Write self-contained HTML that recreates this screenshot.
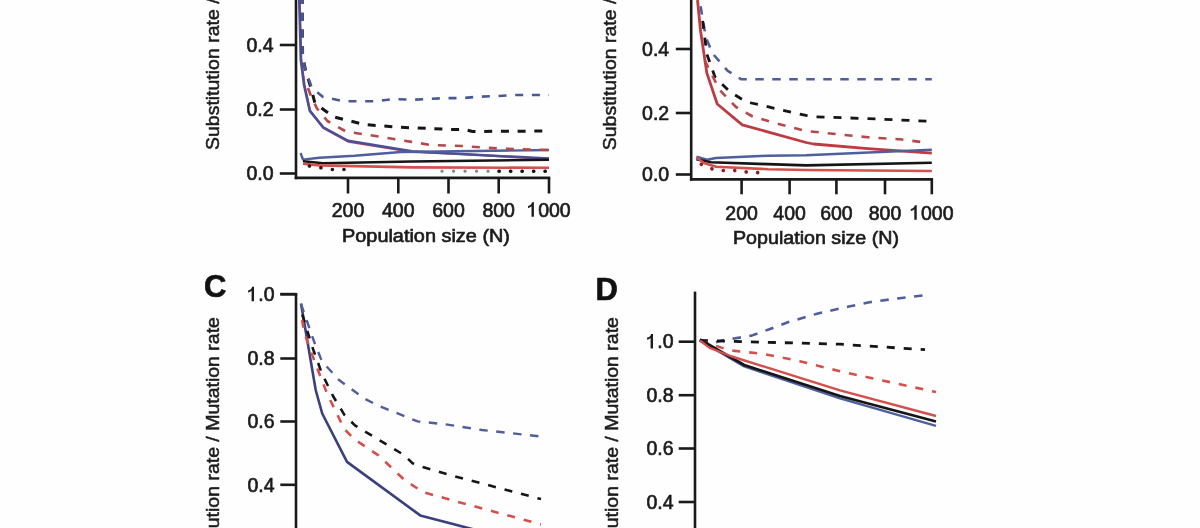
<!DOCTYPE html>
<html><head><meta charset="utf-8"><style>
html,body{margin:0;padding:0;background:#fefefe;}
body{width:1200px;height:528px;overflow:hidden;}
svg{display:block;font-family:"Liberation Sans",sans-serif;filter:blur(0.45px);}
</style></head><body>
<svg width="1200" height="528" viewBox="0 0 1200 528">
<rect width="1200" height="528" fill="#fefefe"/>
<line x1="296" y1="-2" x2="296" y2="179.20000000000002" stroke="#1a1a1a" stroke-width="2.6"/>
<line x1="294.7" y1="177.9" x2="550.3" y2="177.9" stroke="#1a1a1a" stroke-width="2.6"/>
<line x1="279.8" y1="45" x2="296" y2="45" stroke="#1a1a1a" stroke-width="2.6"/>
<line x1="279.8" y1="109.5" x2="296" y2="109.5" stroke="#1a1a1a" stroke-width="2.6"/>
<line x1="279.8" y1="173.5" x2="296" y2="173.5" stroke="#1a1a1a" stroke-width="2.6"/>
<line x1="348" y1="177.9" x2="348" y2="193.5" stroke="#1a1a1a" stroke-width="2.6"/>
<text x="348" y="216.5" font-size="19.5" text-anchor="middle" font-weight="normal" fill="#1c1c1c" stroke="#1c1c1c" stroke-width="0.65">200</text>
<line x1="398.3" y1="177.9" x2="398.3" y2="193.5" stroke="#1a1a1a" stroke-width="2.6"/>
<text x="398.3" y="216.5" font-size="19.5" text-anchor="middle" font-weight="normal" fill="#1c1c1c" stroke="#1c1c1c" stroke-width="0.65">400</text>
<line x1="448.5" y1="177.9" x2="448.5" y2="193.5" stroke="#1a1a1a" stroke-width="2.6"/>
<text x="448.5" y="216.5" font-size="19.5" text-anchor="middle" font-weight="normal" fill="#1c1c1c" stroke="#1c1c1c" stroke-width="0.65">600</text>
<line x1="498.7" y1="177.9" x2="498.7" y2="193.5" stroke="#1a1a1a" stroke-width="2.6"/>
<text x="498.7" y="216.5" font-size="19.5" text-anchor="middle" font-weight="normal" fill="#1c1c1c" stroke="#1c1c1c" stroke-width="0.65">800</text>
<line x1="549" y1="177.9" x2="549" y2="193.5" stroke="#1a1a1a" stroke-width="2.6"/>
<path d="M531.52,216.70 L533.92,216.70 L533.92,202.20 L532.02,202.20 C531.52,204.30 530.22,205.50 528.02,205.90 L528.02,208.00 C529.52,207.80 530.82,207.20 531.52,206.30 Z" fill="#1c1c1c"/>
<text x="538.158" y="216.5" font-size="19.5" text-anchor="start" font-weight="normal" fill="#1c1c1c" stroke="#1c1c1c" stroke-width="0.65">000</text>
<text x="273.6" y="51.5" font-size="19.5" text-anchor="end" font-weight="normal" fill="#1c1c1c" stroke="#1c1c1c" stroke-width="0.65">0.4</text>
<text x="273.6" y="116.0" font-size="19.5" text-anchor="end" font-weight="normal" fill="#1c1c1c" stroke="#1c1c1c" stroke-width="0.65">0.2</text>
<text x="273.6" y="180.0" font-size="19.5" text-anchor="end" font-weight="normal" fill="#1c1c1c" stroke="#1c1c1c" stroke-width="0.65">0.0</text>
<text x="219.2" y="150" font-size="18.5" text-anchor="start" font-weight="normal" fill="#1c1c1c" stroke="#1c1c1c" stroke-width="0.5" transform="rotate(-90 219.2 150)" textLength="270.7" lengthAdjust="spacingAndGlyphs">Substitution rate / Mutation rate</text>
<text x="342" y="242.2" font-size="18" text-anchor="start" font-weight="normal" fill="#1c1c1c" stroke="#1c1c1c" stroke-width="0.65" textLength="168" lengthAdjust="spacingAndGlyphs">Population size (N)</text>
<polyline points="299.7,0 301.3,60 304.5,85 310.2,111.2 323.5,128 348.2,141.6 411.8,152 470,154.5 549,159" fill="none" stroke="#c04848" stroke-width="2.2" stroke-linejoin="round" stroke-linecap="butt"/>
<polyline points="299.2,0 300.8,60 304,85 309.7,110.6 323.2,127.3 348.2,140.8 411.8,151.25 470,154.5 549,158.6" fill="none" stroke="#4a4f98" stroke-width="2.5" stroke-linejoin="round" stroke-linecap="butt"/>
<polyline points="300.6,153 303,159.6 319.3,157.8 354.5,155.8 401,152 549,150" fill="none" stroke="#4f5f9e" stroke-width="2.4" stroke-linejoin="round" stroke-linecap="butt"/>
<polyline points="308,88 311,96 317,108.5 327.4,121 346,131.5 379.5,136.7 411.8,141.9 430.8,145 462,146 498,148.5 549,150" fill="none" stroke="#b54848" stroke-width="2.6" stroke-linejoin="round" stroke-linecap="butt" stroke-dasharray="8 9"/>
<polyline points="302.2,-4 302.6,56 305.5,70 310.8,87.5 315,103.3 333.7,116.9 365,124.6 400,127.3 451.7,129.4 464,129.4 472.5,131.5 549,131" fill="none" stroke="#151515" stroke-width="3" stroke-linejoin="round" stroke-linecap="butt" stroke-dasharray="8 8.7"/>
<polyline points="302.2,-4 302.6,56 305,68.75 311.8,87.7 323,97 344,101.25 375,101.25 394,99 412,99.8 445,98.1 462,98.1 478.75,96.7 497.5,96 514,95 549,95" fill="none" stroke="#485a96" stroke-width="2.6" stroke-linejoin="round" stroke-linecap="butt" stroke-dasharray="8 8.7"/>
<polyline points="303,161.2 323,163.3 411.8,161.5 549,159.7" fill="none" stroke="#151515" stroke-width="2.6" stroke-linejoin="round" stroke-linecap="butt"/>
<polyline points="303,163.8 319.3,165.4 411.8,167.4 549,167.8" fill="none" stroke="#d5504c" stroke-width="2.6" stroke-linejoin="round" stroke-linecap="butt"/>
<polyline points="309.4,166 321,167.75 332.2,169.5 344,169.5" fill="none" stroke="#2a1515" stroke-width="3.6" stroke-linejoin="round" stroke-linecap="round" stroke-dasharray="0.1 11.5"/>
<polyline points="442,171.2 549,171.2" fill="none" stroke="#888" stroke-width="3.2" stroke-linejoin="round" stroke-linecap="round" stroke-dasharray="0.1 11.4"/>
<polyline points="499,171.2 549,171.2" fill="none" stroke="#1a1010" stroke-width="3.6" stroke-linejoin="round" stroke-linecap="round" stroke-dasharray="0.1 11.4"/>
<line x1="691.2" y1="-2" x2="691.2" y2="180.70000000000002" stroke="#1a1a1a" stroke-width="2.6"/>
<line x1="689.9000000000001" y1="179.4" x2="933.0999999999999" y2="179.4" stroke="#1a1a1a" stroke-width="2.6"/>
<line x1="675.8" y1="49" x2="691.2" y2="49" stroke="#1a1a1a" stroke-width="2.6"/>
<line x1="675.8" y1="113" x2="691.2" y2="113" stroke="#1a1a1a" stroke-width="2.6"/>
<line x1="675.8" y1="174.5" x2="691.2" y2="174.5" stroke="#1a1a1a" stroke-width="2.6"/>
<line x1="741.6" y1="179.4" x2="741.6" y2="194.3" stroke="#1a1a1a" stroke-width="2.6"/>
<text x="741.6" y="219.5" font-size="19.5" text-anchor="middle" font-weight="normal" fill="#1c1c1c" stroke="#1c1c1c" stroke-width="0.65">200</text>
<line x1="789.6" y1="179.4" x2="789.6" y2="194.3" stroke="#1a1a1a" stroke-width="2.6"/>
<text x="789.6" y="219.5" font-size="19.5" text-anchor="middle" font-weight="normal" fill="#1c1c1c" stroke="#1c1c1c" stroke-width="0.65">400</text>
<line x1="836.4" y1="179.4" x2="836.4" y2="194.3" stroke="#1a1a1a" stroke-width="2.6"/>
<text x="836.4" y="219.5" font-size="19.5" text-anchor="middle" font-weight="normal" fill="#1c1c1c" stroke="#1c1c1c" stroke-width="0.65">600</text>
<line x1="885" y1="179.4" x2="885" y2="194.3" stroke="#1a1a1a" stroke-width="2.6"/>
<text x="885" y="219.5" font-size="19.5" text-anchor="middle" font-weight="normal" fill="#1c1c1c" stroke="#1c1c1c" stroke-width="0.65">800</text>
<line x1="931.8" y1="179.4" x2="931.8" y2="194.3" stroke="#1a1a1a" stroke-width="2.6"/>
<path d="M914.32,219.70 L916.72,219.70 L916.72,205.20 L914.82,205.20 C914.32,207.30 913.02,208.50 910.82,208.90 L910.82,211.00 C912.32,210.80 913.62,210.20 914.32,209.30 Z" fill="#1c1c1c"/>
<text x="920.958" y="219.5" font-size="19.5" text-anchor="start" font-weight="normal" fill="#1c1c1c" stroke="#1c1c1c" stroke-width="0.65">000</text>
<text x="669.2" y="55.8" font-size="19.5" text-anchor="end" font-weight="normal" fill="#1c1c1c" stroke="#1c1c1c" stroke-width="0.65">0.4</text>
<text x="669.2" y="119.8" font-size="19.5" text-anchor="end" font-weight="normal" fill="#1c1c1c" stroke="#1c1c1c" stroke-width="0.65">0.2</text>
<text x="669.2" y="181.3" font-size="19.5" text-anchor="end" font-weight="normal" fill="#1c1c1c" stroke="#1c1c1c" stroke-width="0.65">0.0</text>
<text x="616.2" y="150.2" font-size="18.5" text-anchor="start" font-weight="normal" fill="#1c1c1c" stroke="#1c1c1c" stroke-width="0.5" transform="rotate(-90 616.2 150.2)" textLength="270.7" lengthAdjust="spacingAndGlyphs">Substitution rate / Mutation rate</text>
<text x="733" y="244.4" font-size="18" text-anchor="start" font-weight="normal" fill="#1c1c1c" stroke="#1c1c1c" stroke-width="0.65" textLength="166" lengthAdjust="spacingAndGlyphs">Population size (N)</text>
<polyline points="697.5,0 700.6,31.25 706.8,72.9 717.25,104 742.25,124.8 806,142.5 813.6,144 868,148.6 931.8,153.2" fill="none" stroke="#bf3a42" stroke-width="2.8" stroke-linejoin="round" stroke-linecap="butt"/>
<polyline points="700.6,6.25 705.8,37.5 713,54 727.7,70.8 741,79.2 931.8,79.3" fill="none" stroke="#4f5f9e" stroke-width="2.6" stroke-linejoin="round" stroke-linecap="butt" stroke-dasharray="8.5 8.5"/>
<polyline points="702.7,20.8 706.8,54 715,77 729.75,91.7 746.4,102 761,105 777.7,109.2 806,115.4 813.6,116.8 868,118.6 931.8,121.4" fill="none" stroke="#151515" stroke-width="2.8" stroke-linejoin="round" stroke-linecap="butt" stroke-dasharray="8 9"/>
<polyline points="704.75,60.4 719.3,89.6 736,107 752.7,116.5 773.5,122.7 806,131 822.7,132.7 868,137.3 902,139.5 925,142.5" fill="none" stroke="#b54848" stroke-width="2.6" stroke-linejoin="round" stroke-linecap="butt" stroke-dasharray="8 9"/>
<polyline points="696.4,156.6 707,159.7 716,158 768,155.7 806,155.2 931.8,149.8" fill="none" stroke="#4f5f9e" stroke-width="2.4" stroke-linejoin="round" stroke-linecap="butt"/>
<polyline points="696.4,159.2 711,162.3 806,165.4 931.8,162.7" fill="none" stroke="#151515" stroke-width="2.6" stroke-linejoin="round" stroke-linecap="butt"/>
<polyline points="696.4,157.5 704,163 716,166.7 768,169.2 806,170 931.8,171" fill="none" stroke="#d5504c" stroke-width="2.6" stroke-linejoin="round" stroke-linecap="butt"/>
<polyline points="701.3,164.3 712.9,169.2 724,170.6 735.7,170.6 746.9,172 758.5,172.7" fill="none" stroke="#8a2020" stroke-width="3.6" stroke-linejoin="round" stroke-linecap="round" stroke-dasharray="0.1 11.4"/>
<line x1="296" y1="294.2" x2="296" y2="530" stroke="#1a1a1a" stroke-width="2.6"/>
<line x1="280.3" y1="294.2" x2="296" y2="294.2" stroke="#1a1a1a" stroke-width="2.6"/>
<path d="M251.59,301.20 L254.00,301.20 L254.00,286.70 L252.09,286.70 C251.59,288.80 250.30,290.00 248.09,290.40 L248.09,292.50 C249.59,292.30 250.90,291.70 251.59,290.80 Z" fill="#1c1c1c"/>
<text x="258.237" y="301.0" font-size="19.5" text-anchor="start" font-weight="normal" fill="#1c1c1c" stroke="#1c1c1c" stroke-width="0.65">.0</text>
<line x1="280.3" y1="358.5" x2="296" y2="358.5" stroke="#1a1a1a" stroke-width="2.6"/>
<text x="274.5" y="365.3" font-size="19.5" text-anchor="end" font-weight="normal" fill="#1c1c1c" stroke="#1c1c1c" stroke-width="0.65">0.8</text>
<line x1="280.3" y1="421.5" x2="296" y2="421.5" stroke="#1a1a1a" stroke-width="2.6"/>
<text x="274.5" y="428.3" font-size="19.5" text-anchor="end" font-weight="normal" fill="#1c1c1c" stroke="#1c1c1c" stroke-width="0.65">0.6</text>
<line x1="280.3" y1="484.8" x2="296" y2="484.8" stroke="#1a1a1a" stroke-width="2.6"/>
<text x="274.5" y="491.6" font-size="19.5" text-anchor="end" font-weight="normal" fill="#1c1c1c" stroke="#1c1c1c" stroke-width="0.65">0.4</text>
<line x1="280.3" y1="294.2" x2="297.3" y2="294.2" stroke="#1a1a1a" stroke-width="2.6"/>
<text x="204" y="296.5" font-size="31" text-anchor="start" font-weight="bold" fill="#111" stroke="#111" stroke-width="0.65">C</text>
<text x="219" y="587.8" font-size="17.5" text-anchor="start" font-weight="normal" fill="#1c1c1c" stroke="#1c1c1c" stroke-width="0.5" transform="rotate(-90 219 587.8)" textLength="270.7" lengthAdjust="spacingAndGlyphs">Substitution rate / Mutation rate</text>
<polyline points="301,303.5 315.7,390 322.2,413.5 347,461.9 420.2,515.4 450,523.3 476,530" fill="none" stroke="#38407e" stroke-width="2.6" stroke-linejoin="round" stroke-linecap="butt"/>
<polyline points="301,304 314.6,343 322,361.4 339,380 364,398.4 378.4,405.7 417.6,421.4 445.6,424.3 482,430 541,436.5" fill="none" stroke="#4f5f9e" stroke-width="2.4" stroke-linejoin="round" stroke-linecap="butt" stroke-dasharray="8.5 8.5"/>
<polyline points="302.3,314.6 312.2,346.7 322,373.7 333,396 344.4,414.8 354.9,425.3 378.4,439.6 404.5,455.3 412.4,463.2 422.8,467 450,475 541,499.1" fill="none" stroke="#151515" stroke-width="2.6" stroke-linejoin="round" stroke-linecap="butt" stroke-dasharray="8 9"/>
<polyline points="302,320 304.8,334.3 314.6,361.4 327,393.4 344.4,429.2 354.9,439.6 378.4,455.3 404.5,480 422.8,492 450,499.7 541,524.4" fill="none" stroke="#d5504c" stroke-width="2.6" stroke-linejoin="round" stroke-linecap="butt" stroke-dasharray="8 9"/>
<line x1="695" y1="291.6" x2="695" y2="530" stroke="#1a1a1a" stroke-width="2.6"/>
<line x1="678.7" y1="341.7" x2="695" y2="341.7" stroke="#1a1a1a" stroke-width="2.6"/>
<path d="M650.60,348.40 L653.00,348.40 L653.00,333.90 L651.10,333.90 C650.60,336.00 649.29,337.20 647.10,337.60 L647.10,339.70 C648.60,339.50 649.89,338.90 650.60,338.00 Z" fill="#1c1c1c"/>
<text x="657.237" y="348.2" font-size="19.5" text-anchor="start" font-weight="normal" fill="#1c1c1c" stroke="#1c1c1c" stroke-width="0.65">.0</text>
<line x1="678.7" y1="395.2" x2="695" y2="395.2" stroke="#1a1a1a" stroke-width="2.6"/>
<text x="673.5" y="401.7" font-size="19.5" text-anchor="end" font-weight="normal" fill="#1c1c1c" stroke="#1c1c1c" stroke-width="0.65">0.8</text>
<line x1="678.7" y1="448.5" x2="695" y2="448.5" stroke="#1a1a1a" stroke-width="2.6"/>
<text x="673.5" y="455.0" font-size="19.5" text-anchor="end" font-weight="normal" fill="#1c1c1c" stroke="#1c1c1c" stroke-width="0.65">0.6</text>
<line x1="678.7" y1="502" x2="695" y2="502" stroke="#1a1a1a" stroke-width="2.6"/>
<text x="673.5" y="508.5" font-size="19.5" text-anchor="end" font-weight="normal" fill="#1c1c1c" stroke="#1c1c1c" stroke-width="0.65">0.4</text>
<text x="595.5" y="300" font-size="31" text-anchor="start" font-weight="bold" fill="#111" stroke="#111" stroke-width="0.65">D</text>
<text x="618.5" y="587.8" font-size="17.5" text-anchor="start" font-weight="normal" fill="#1c1c1c" stroke="#1c1c1c" stroke-width="0.5" transform="rotate(-90 618.5 587.8)" textLength="270.7" lengthAdjust="spacingAndGlyphs">Substitution rate / Mutation rate</text>
<polyline points="699.9,340.5 709.7,344.2 722,340.5 751.6,335.6 770,329 788.5,322 818,313.4 849,306.5 869.4,302.2 899.7,298.2 925.5,295.2" fill="none" stroke="#4f5f9e" stroke-width="2.6" stroke-linejoin="round" stroke-linecap="butt" stroke-dasharray="8.5 8.5"/>
<polyline points="699.9,340.5 840,344.2 925,349.7" fill="none" stroke="#151515" stroke-width="2.8" stroke-linejoin="round" stroke-linecap="butt" stroke-dasharray="8 9"/>
<polyline points="699.9,340.5 729.4,350.3 764,354 800.8,361.4 840,371.3 866.4,377 936,392.1" fill="none" stroke="#d5504c" stroke-width="2.6" stroke-linejoin="round" stroke-linecap="butt" stroke-dasharray="8 9"/>
<polyline points="699.9,340.5 744.2,366.4 840,398.4 936,425.8" fill="none" stroke="#4f5f9e" stroke-width="2.4" stroke-linejoin="round" stroke-linecap="butt"/>
<polyline points="699.9,339.5 744.2,365 840,396 936,421.4" fill="none" stroke="#151515" stroke-width="2.6" stroke-linejoin="round" stroke-linecap="butt"/>
<polyline points="699.9,340.5 709.7,347.9 731.9,356.5 840,390.3 936,416" fill="none" stroke="#d5504c" stroke-width="2.4" stroke-linejoin="round" stroke-linecap="butt"/>
</svg></body></html>
